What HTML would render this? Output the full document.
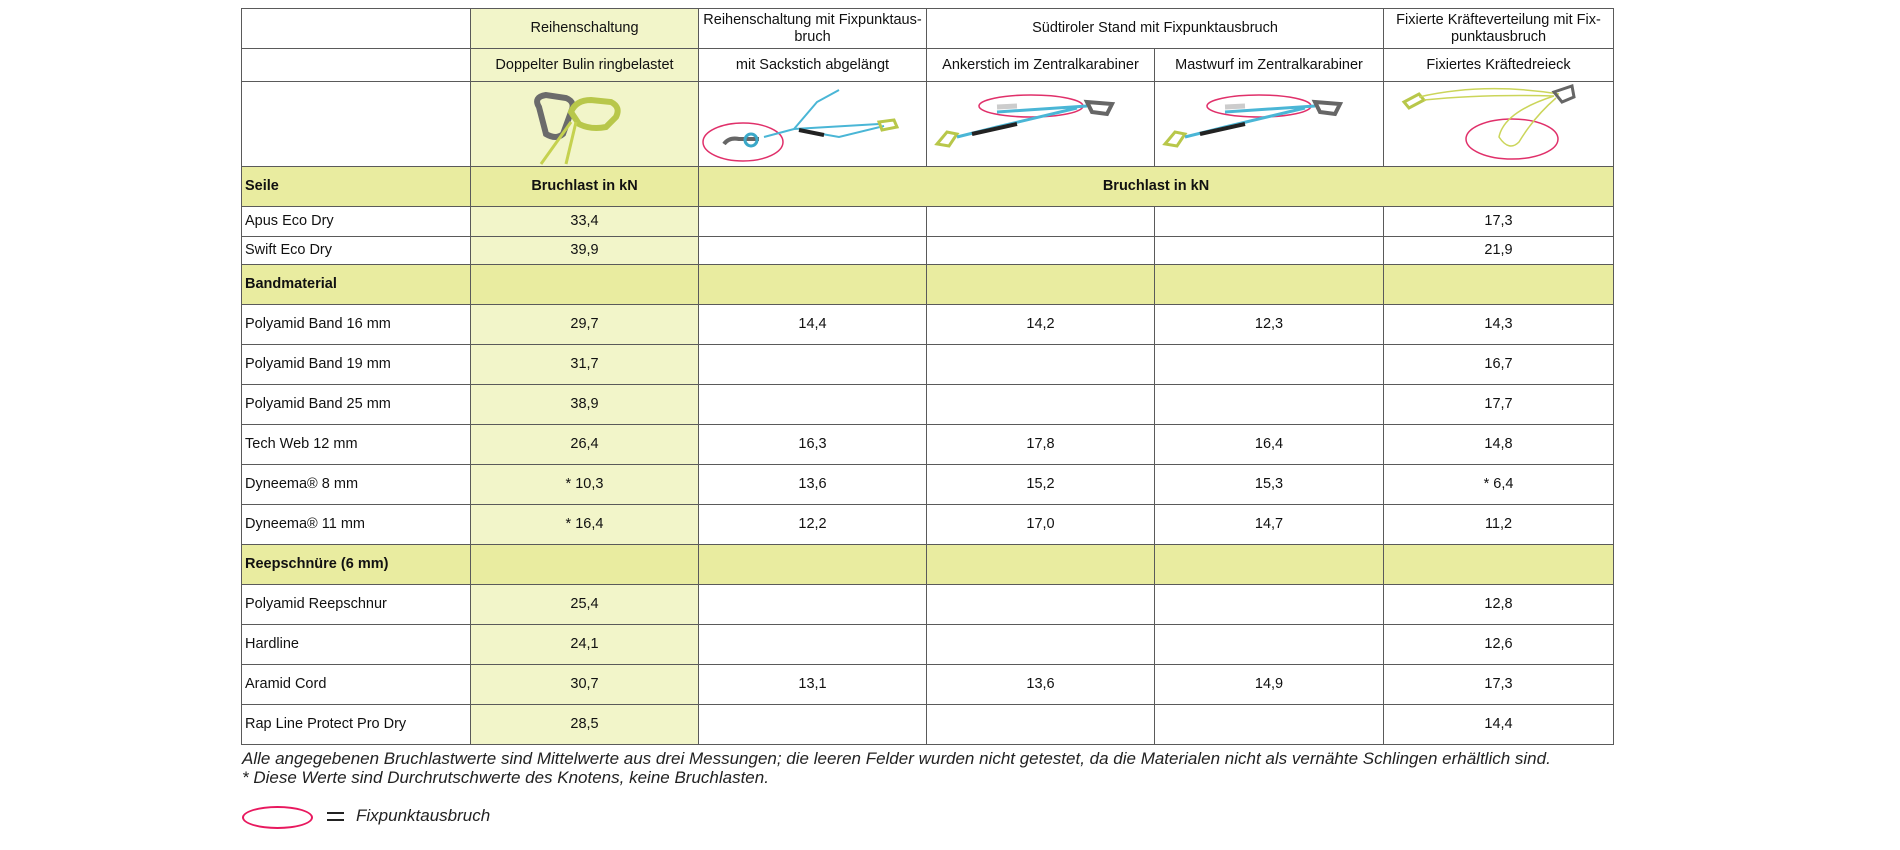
<!DOCTYPE html>
<html><head><meta charset="utf-8"><style>
html,body{margin:0;padding:0;background:#fff;width:1900px;height:850px;overflow:hidden}
body{position:relative;font-family:"Liberation Sans",sans-serif;color:#111}
table{position:absolute;left:241px;top:8px;border-collapse:collapse;table-layout:fixed;width:1372px}
td{border:1px solid #5a5a5a;font-size:14.5px;text-align:center;padding:0;vertical-align:middle;line-height:17px}
td.l{text-align:left;padding-left:3px}
.g{background:#f2f5c9}
.y{background:#e9eca0}
b{font-weight:bold}
.foot{position:absolute;left:242px;font-style:italic;font-size:17px;color:#222;white-space:nowrap}
svg{display:block;margin:0 auto}
</style></head><body>
<table>
<colgroup><col style="width:229px"><col style="width:228px"><col style="width:228px"><col style="width:228px"><col style="width:229px"><col style="width:230px"></colgroup>
<tr style="height:40px"><td></td><td class="g">Reihenschaltung</td><td>Reihenschaltung mit Fixpunktaus-<br>bruch</td><td colspan="2">Südtiroler Stand mit Fixpunktausbruch</td><td>Fixierte Kräfteverteilung mit Fix-<br>punktausbruch</td></tr>
<tr style="height:33px"><td></td><td class="g">Doppelter Bulin ringbelastet</td><td>mit Sackstich abgelängt</td><td>Ankerstich im Zentralkarabiner</td><td>Mastwurf im Zentralkarabiner</td><td>Fixiertes Kräftedreieck</td></tr>
<tr style="height:85px"><td></td>
<td class="g"><svg width="228" height="84"><path d="M68 25 Q62 15 75 13 L95 16 Q105 20 100 30 L92 52 Q85 58 75 52 Z" fill="none" stroke="#6b6b6b" stroke-width="6"/><path d="M100 30 Q105 18 120 18 L140 20 Q150 25 145 35 L135 45 Q120 48 108 42 Z" fill="none" stroke="#b8c74a" stroke-width="6"/><path d="M100 40 L70 82 M105 40 L95 82" stroke="#c5d14f" stroke-width="3"/></svg></td>
<td><svg width="228" height="84"><ellipse cx="44" cy="60" rx="40" ry="19" fill="none" stroke="#e0306a" stroke-width="1.5"/><path d="M25 62 Q30 55 40 57 L60 57" stroke="#666" stroke-width="4" fill="none"/><circle cx="52" cy="58" r="6" fill="none" stroke="#3aa8c8" stroke-width="3"/><path d="M65 55 L95 47 L180 42 M95 47 L118 20 L140 8 M100 48 L140 55 L185 44" stroke="#4ab6d6" stroke-width="2" fill="none"/><path d="M100 48 L125 53" stroke="#222" stroke-width="4"/><path d="M180 40 L195 38 L198 45 L183 48 Z" fill="none" stroke="#b8c74a" stroke-width="3"/></svg></td>
<td><svg width="228" height="84"><ellipse cx="104" cy="24" rx="52" ry="11" fill="none" stroke="#e0306a" stroke-width="1.5"/><path d="M10 62 L20 50 L30 52 L22 64 Z" fill="none" stroke="#b8c74a" stroke-width="3"/><path d="M30 55 L70 45 L150 26 M70 30 L160 24" stroke="#4ab6d6" stroke-width="3"/><path d="M45 52 L90 42" stroke="#222" stroke-width="4"/><path d="M160 20 L185 22 L180 32 L165 30 Z" fill="none" stroke="#666" stroke-width="4"/><path d="M70 25 L90 24" stroke="#ccc" stroke-width="5"/></svg></td>
<td><svg width="229" height="84"><ellipse cx="104" cy="24" rx="52" ry="11" fill="none" stroke="#e0306a" stroke-width="1.5"/><path d="M10 62 L20 50 L30 52 L22 64 Z" fill="none" stroke="#b8c74a" stroke-width="3"/><path d="M30 55 L70 45 L150 26 M70 30 L160 24" stroke="#4ab6d6" stroke-width="3"/><path d="M45 52 L90 42" stroke="#222" stroke-width="4"/><path d="M160 20 L185 22 L180 32 L165 30 Z" fill="none" stroke="#666" stroke-width="4"/><path d="M70 25 L90 24" stroke="#ccc" stroke-width="5"/></svg></td>
<td><svg width="230" height="84"><ellipse cx="128" cy="57" rx="46" ry="20" fill="none" stroke="#e0306a" stroke-width="1.5"/><path d="M20 20 L35 12 L40 18 L25 26 Z" fill="none" stroke="#b8c74a" stroke-width="3"/><path d="M35 15 Q100 0 175 12 M40 18 Q100 12 170 14 M170 14 Q120 30 115 55 Q125 70 135 60 Q150 35 172 16" stroke="#cbd55a" stroke-width="1.5" fill="none"/><path d="M170 10 L188 4 L190 15 L178 20 Z" fill="none" stroke="#666" stroke-width="3"/></svg></td></tr>
<tr class="y" style="height:40px"><td class="l"><b>Seile</b></td><td><b>Bruchlast in kN</b></td><td colspan="4"><b>Bruchlast in kN</b></td></tr>
<tr style="height:30px"><td class="l">Apus Eco Dry</td><td class="g">33,4</td><td></td><td></td><td></td><td>17,3</td></tr>
<tr style="height:28px"><td class="l">Swift Eco Dry</td><td class="g">39,9</td><td></td><td></td><td></td><td>21,9</td></tr>
<tr class="y" style="height:40px"><td class="l"><b>Bandmaterial</b></td><td></td><td></td><td></td><td></td><td></td></tr>
<tr style="height:40px"><td class="l">Polyamid Band 16 mm</td><td class="g">29,7</td><td>14,4</td><td>14,2</td><td>12,3</td><td>14,3</td></tr>
<tr style="height:40px"><td class="l">Polyamid Band 19 mm</td><td class="g">31,7</td><td></td><td></td><td></td><td>16,7</td></tr>
<tr style="height:40px"><td class="l">Polyamid Band 25 mm</td><td class="g">38,9</td><td></td><td></td><td></td><td>17,7</td></tr>
<tr style="height:40px"><td class="l">Tech Web 12 mm</td><td class="g">26,4</td><td>16,3</td><td>17,8</td><td>16,4</td><td>14,8</td></tr>
<tr style="height:40px"><td class="l">Dyneema® 8 mm</td><td class="g">* 10,3</td><td>13,6</td><td>15,2</td><td>15,3</td><td>* 6,4</td></tr>
<tr style="height:40px"><td class="l">Dyneema® 11 mm</td><td class="g">* 16,4</td><td>12,2</td><td>17,0</td><td>14,7</td><td>11,2</td></tr>
<tr class="y" style="height:40px"><td class="l"><b>Reepschnüre (6 mm)</b></td><td></td><td></td><td></td><td></td><td></td></tr>
<tr style="height:40px"><td class="l">Polyamid Reepschnur</td><td class="g">25,4</td><td></td><td></td><td></td><td>12,8</td></tr>
<tr style="height:40px"><td class="l">Hardline</td><td class="g">24,1</td><td></td><td></td><td></td><td>12,6</td></tr>
<tr style="height:40px"><td class="l">Aramid Cord</td><td class="g">30,7</td><td>13,1</td><td>13,6</td><td>14,9</td><td>17,3</td></tr>
<tr style="height:40px"><td class="l">Rap Line Protect Pro Dry</td><td class="g">28,5</td><td></td><td></td><td></td><td>14,4</td></tr>
</table>
<div class="foot" style="top:749px">Alle angegebenen Bruchlastwerte sind Mittelwerte aus drei Messungen; die leeren Felder wurden nicht getestet, da die Materialen nicht als vernähte Schlingen erhältlich sind.</div>
<div class="foot" style="top:768px">* Diese Werte sind Durchrutschwerte des Knotens, keine Bruchlasten.</div>
<div style="position:absolute;left:242px;top:806px;width:67px;height:19px;border:2px solid #e8185e;border-radius:50%"></div>
<div style="position:absolute;left:327px;top:812px;width:17px;height:2px;background:#222"></div>
<div style="position:absolute;left:327px;top:819px;width:17px;height:2px;background:#222"></div>
<div class="foot" style="left:356px;top:806px">Fixpunktausbruch</div>
</body></html>
